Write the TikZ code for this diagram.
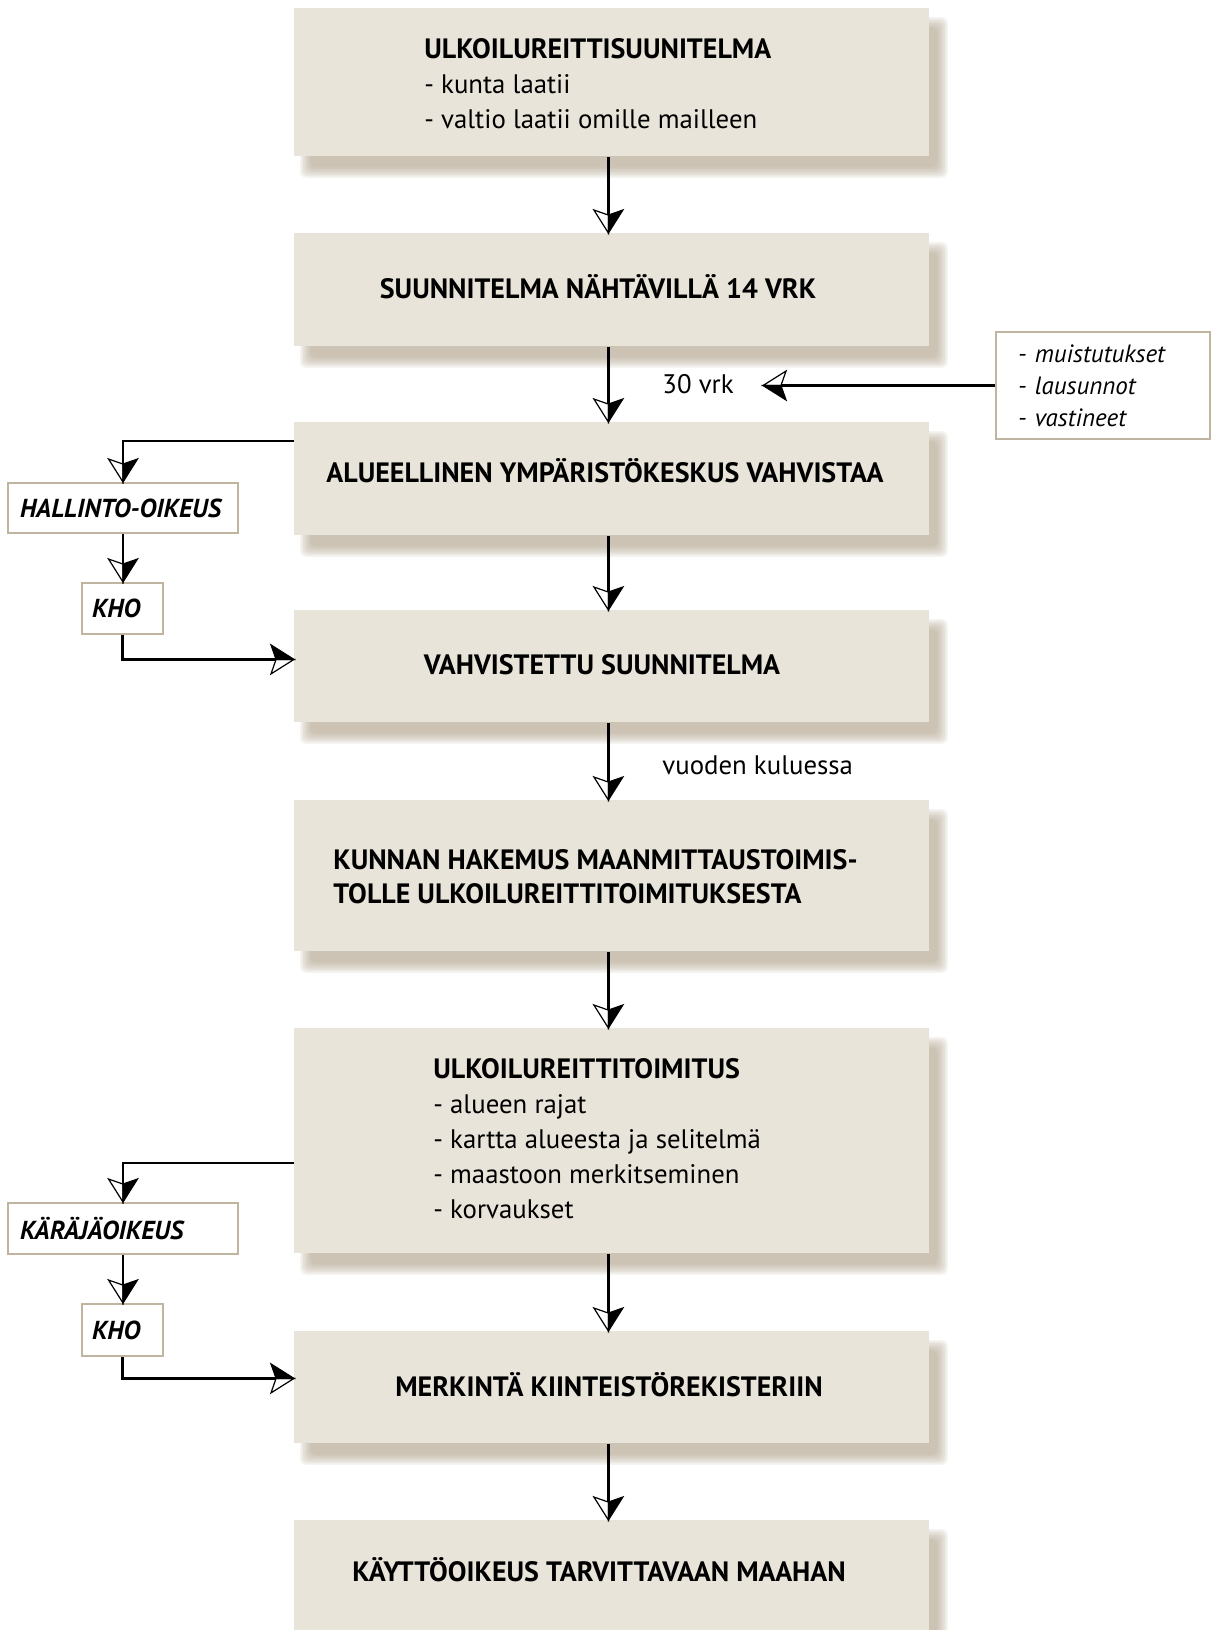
\documentclass[tikz,border=0pt]{standalone}
\usepackage{fontspec}
\setmainfont{PT Sans}
\usetikzlibrary{arrows.meta,backgrounds,positioning}

\definecolor{boxfill}{RGB}{233,228,217}
\definecolor{boxline}{RGB}{190,180,160}
\definecolor{shadowc}{RGB}{175,162,140}

% half filled, half open arrow tip
\pgfdeclarearrow{
  name=HalfStealth,
  parameters={\the\pgfarrowlength,\the\pgfarrowwidth},
  setup code={
    \pgfarrowssettipend{0pt}
    \pgfarrowssetlineend{-0.78\pgfarrowlength}
    \pgfarrowssetbackend{-\pgfarrowlength}
    \pgfarrowssavethe\pgfarrowlength
    \pgfarrowssavethe\pgfarrowwidth
  },
  drawing code={
    \pgfsetlinewidth{0.6pt}
    \pgfsetmiterjoin
    \pgfpathmoveto{\pgfpoint{0pt}{0pt}}
    \pgfpathlineto{\pgfpoint{-\pgfarrowlength}{0.5\pgfarrowwidth}}
    \pgfpathlineto{\pgfpoint{-0.78\pgfarrowlength}{0pt}}
    \pgfpathclose
    \pgfusepathqfillstroke
    \pgfpathmoveto{\pgfpoint{0pt}{0pt}}
    \pgfpathlineto{\pgfpoint{-\pgfarrowlength}{-0.5\pgfarrowwidth}}
    \pgfpathlineto{\pgfpoint{-0.78\pgfarrowlength}{0pt}}
    \pgfpathclose
    \pgfusepathqstroke
  },
  defaults={length=11.5pt, width=14.5pt}
}

\tikzset{
  stage/.style={fill=boxfill, minimum width=317.5pt, anchor=north west, inner sep=0pt},
  court/.style={draw=boxline, line width=1pt, fill=white, anchor=north west, inner xsep=6pt, inner ysep=0pt,
    align=left, font=\fontsize{13}{16}\selectfont\bfseries\itshape},
  flow/.style={line width=1.3pt, -{HalfStealth[length=11.5pt, width=14.5pt]}},
  txt/.style={font=\fontsize{13.4}{17.5}\selectfont, align=left, inner sep=0pt},
  head/.style={txt, anchor=base, font=\fontsize{14}{17.5}\selectfont\bfseries},
}

% soft shadow behind a stage box
\newcommand{\stageshadow}[1]{%
  \foreach \s in {-3,-2.25,...,2.3}{
    \fill[shadowc, fill opacity=0.12, rounded corners=3pt]
      ([xshift={(6+\s)*1pt}, yshift={(-7.5-\s)*1pt}]#1.north west) rectangle
      ([xshift={(6-\s)*1pt}, yshift={(-7.5+\s)*1pt}]#1.south east);
  }}

\begin{document}
\begin{tikzpicture}[x=0.5pt, y=-0.5pt]
        \useasboundingbox (0,0) rectangle (1211,1630);
        % Stage boxes:
        \node[stage, minimum height=74pt] (b1) at (294, 8) {};
        \node[stage, minimum height=56.5pt] (b2) at (294, 233) {};
        \node[stage, minimum height=56.5pt] (b3) at (294, 422) {};
        \node[stage, minimum height=56pt] (b4) at (294, 610) {};
        \node[stage, minimum height=75.5pt] (b5) at (294, 800) {};
        \node[stage, minimum height=112.5pt] (b6) at (294, 1028) {};
        \node[stage, minimum height=56pt] (b7) at (294, 1331) {};
        \node[stage, minimum height=70pt] (b8) at (294, 1520) {};
        \begin{scope}[on background layer]
          \foreach \i in {1,...,8} {\stageshadow{b\i}}
        \end{scope}
        % Texts in the stages:
        \node[txt, anchor=base west] (t1) at (424, 128) {\textbf{\fontsize{14}{17.5}\selectfont ULKOILUREITTISUUNITELMA}\\- kunta laatii\\- valtio laatii omille mailleen};
        \node[head] (t2) at (598, 298) {SUUNNITELMA NÄHTÄVILLÄ 14 VRK};
        \node[head] (t3) at (605, 482) {ALUEELLINEN YMPÄRISTÖKESKUS VAHVISTAA};
        \node[head] (t4) at (602, 674) {VAHVISTETTU SUUNNITELMA};
        \node[head, anchor=base west, align=left, font=\fontsize{14}{16.6}\selectfont\bfseries] (t5) at (333, 903) {KUNNAN HAKEMUS MAANMITTAUSTOIMIS-\\TOLLE ULKOILUREITTITOIMITUKSESTA};
        \node[txt, anchor=base west] (t6) at (433, 1218) {\textbf{\fontsize{14}{17.5}\selectfont ULKOILUREITTITOIMITUS}\\- alueen rajat\\- kartta alueesta ja selitelmä\\- maastoon merkitseminen\\- korvaukset};
        \node[head] (t7) at (609, 1396) {MERKINTÄ KIINTEISTÖREKISTERIIN};
        \node[head] (t8) at (599, 1581) {KÄYTTÖOIKEUS TARVITTAVAAN MAAHAN};
        % Side boxes and labels:
        \node[court, minimum width=115pt, minimum height=25pt, text width=103pt] (ho) at (7, 482) {HALLINTO-OIKEUS};
        \node[court, minimum width=40.5pt, minimum height=25.5pt, inner xsep=5pt, text width=30.5pt] (kho1) at (81, 582) {KHO};
        \node[court, minimum width=115pt, minimum height=25.5pt, text width=103pt] (ko) at (7, 1202) {KÄRÄJÄOIKEUS};
        \node[court, minimum width=40.5pt, minimum height=26pt, inner xsep=5pt, text width=30.5pt] (kho2) at (81, 1303) {KHO};
        \node[court, minimum width=107pt, minimum height=53.5pt, inner xsep=11pt, text width=85pt,
          font=\fontsize{12.5}{16}\selectfont\itshape] (kom) at (995, 331) {- muistutukset\\- lausunnot\\- vastineet};
        \node[txt, anchor=base west] (d30) at (662, 393) {30 vrk};
        \node[txt, anchor=base west] (vk) at (662, 774) {vuoden kuluessa};
        % Main flow:
        \draw[flow] ([xshift=-1.75pt]b1.south) -- ([xshift=-1.75pt]b2.north);
        \draw[flow] ([xshift=-1.75pt]b2.south) -- ([xshift=-1.75pt]b3.north);
        \draw[flow] ([xshift=-1.75pt]b3.south) -- ([xshift=-1.75pt]b4.north);
        \draw[flow] ([xshift=-1.75pt]b4.south) -- ([xshift=-1.75pt]b5.north);
        \draw[flow] ([xshift=-1.75pt]b5.south) -- ([xshift=-1.75pt]b6.north);
        \draw[flow] ([xshift=-1.75pt]b6.south) -- ([xshift=-1.75pt]b7.north);
        \draw[flow] ([xshift=-1.75pt]b7.south) -- ([xshift=-1.75pt]b8.north);
        \draw[flow] (kom.west) -- ([xshift=14.5pt]d30.east |- kom.west);
        % Appeals:
        \draw[flow] ([yshift=-9.5pt]b3.north west) -| (ho.north);
        \draw[flow] (ho.south) -- (ho.south |- kho1.north);
        \draw[flow] (kho1.south) |- ([yshift=3.5pt]b4.west);
        \draw[flow] ([yshift=-67.5pt]b6.north west) -| (ko.north);
        \draw[flow] (ko.south) -- (ko.south |- kho2.north);
        \draw[flow] (kho2.south) |- ([yshift=4.5pt]b7.west);
      \end{tikzpicture}
\end{document}
